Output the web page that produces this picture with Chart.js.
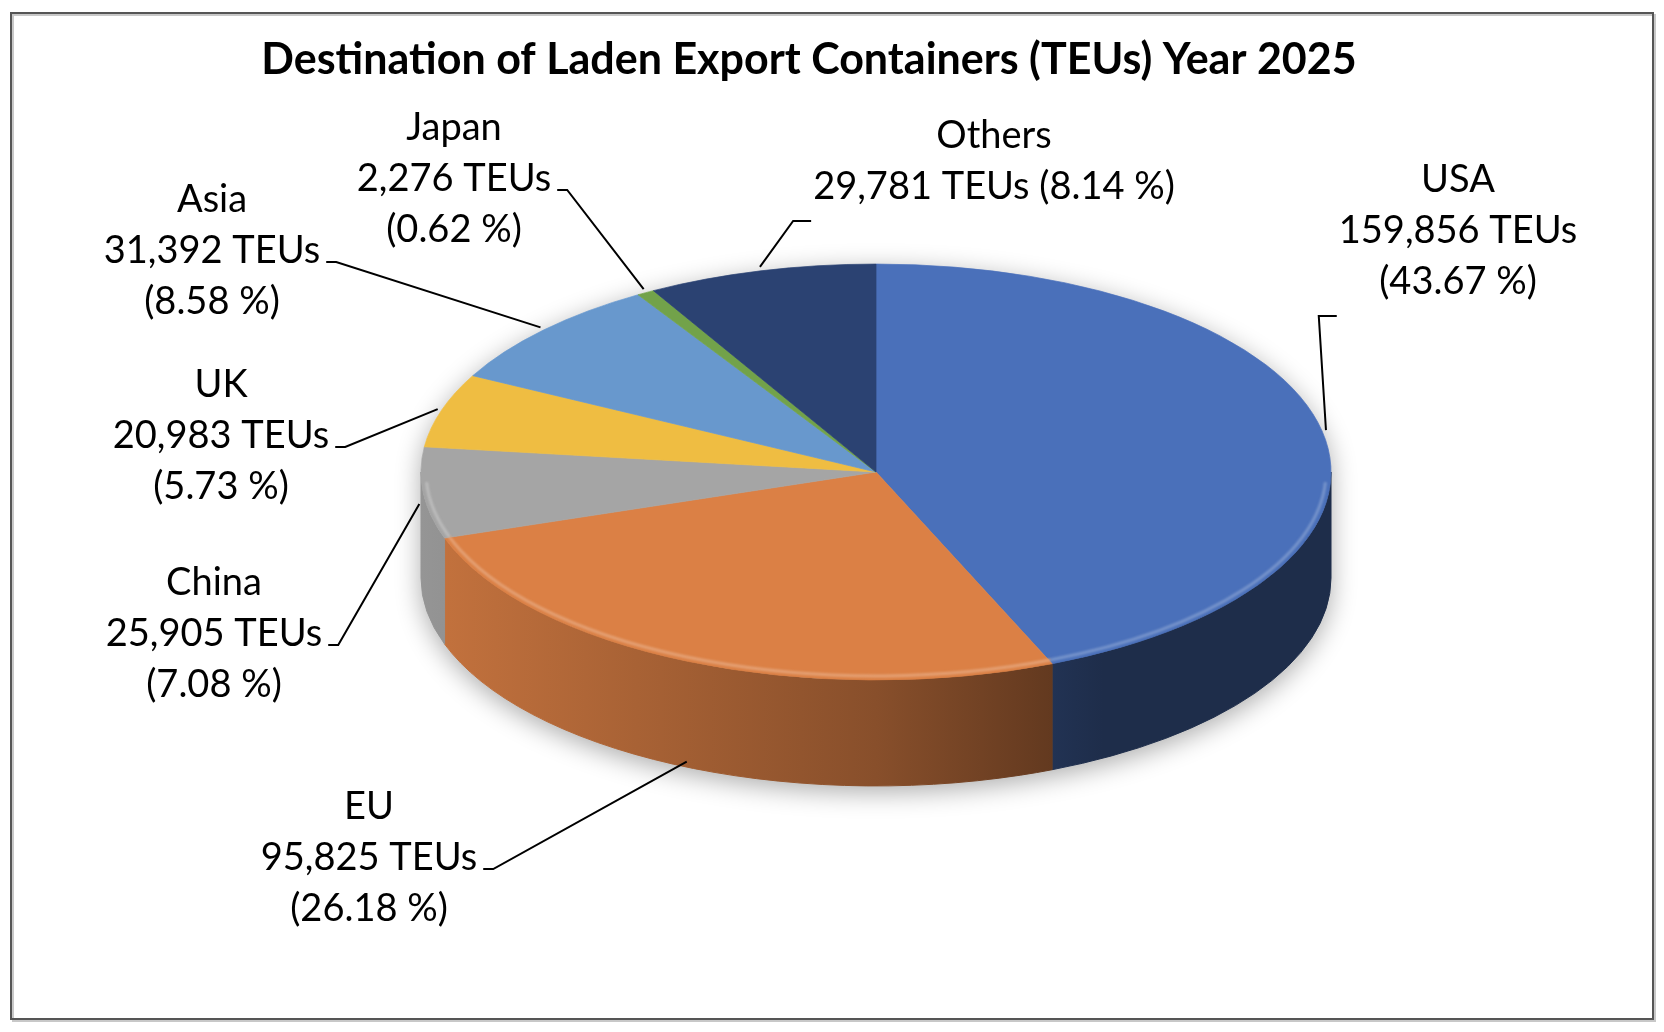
<!DOCTYPE html>
<html lang="en">
<head>
<meta charset="utf-8">
<title>Destination of Laden Export Containers (TEUs) Year 2025</title>
<script src="https://cdn.jsdelivr.net/npm/chart.js@4.4.1/dist/chart.umd.min.js"></script>
<style>
  html, body { margin: 0; padding: 0; background: #fff; }
</style>
</head>
<body>
<canvas id="pie" width="1664" height="1032"></canvas>
<script>
// data
const destinations = ['USA', 'EU', 'China', 'UK', 'Asia', 'Japan', 'Others'];
const teus = [159856, 95825, 25905, 20983, 31392, 2276, 29781];
const shares = [43.67, 26.18, 7.08, 5.73, 8.58, 0.62, 8.14];
const chartTitle = 'Destination of Laden Export Containers (TEUs) Year 2025';

// office-like palette, top faces
const sliceColors = ['#4a70ba', '#db8045', '#a5a5a5', '#efbd42', '#6898cd', '#72a24a', '#2b4272'];

// where each data label sits (centre x, first baseline) and how its leader leaves it
const labelPlace = [
  { x: 1458, y: 192, leader: 'below' },
  { x: 369, y: 819, leader: 'right' },
  { x: 214, y: 595, leader: 'right' },
  { x: 221, y: 397, leader: 'right' },
  { x: 212, y: 212, leader: 'right' },
  { x: 454, y: 140, leader: 'right' },
  { x: 994, y: 148, leader: 'below', oneLine: true }
];

function hexRgb(h) {
  const n = parseInt(h.slice(1), 16);
  return [(n >> 16) & 255, (n >> 8) & 255, n & 255];
}
function shadeOf(rgb, f) {
  const c = rgb.map(v => Math.max(0, Math.min(255, Math.round(v * f))));
  return `rgb(${c[0]},${c[1]},${c[2]})`;
}
function lighter(rgb, t) {
  const c = rgb.map(v => Math.round(v + (255 - v) * t));
  return `rgb(${c[0]},${c[1]},${c[2]})`;
}

const pie3d = {
  id: 'pie3d',
  beforeDraw(chart) {
    const c = chart.ctx;
    c.save();
    c.fillStyle = '#fff';
    c.fillRect(0, 0, chart.width, chart.height);
    c.strokeStyle = '#c8c8c8';
    c.lineWidth = 2;
    c.strokeRect(13, 15, 1642, 1006);
    c.strokeStyle = '#555';
    c.strokeRect(11, 13, 1642, 1006);
    c.fillStyle = '#000';
    c.font = 'bold 43px Lato';
    c.textAlign = 'center';
    c.textBaseline = 'alphabetic';
    c.fillText(chartTitle, 809, 74);
    c.restore();
  },
  beforeDatasetsDraw(chart, args, opts) {
    const c = chart.ctx;
    const arcs = chart.getDatasetMeta(0).data;
    const { x: cx, y: cy, outerRadius: r } = arcs[0].getProps(['x', 'y', 'outerRadius'], true);
    const ry = r * opts.tilt, d = opts.depth;

    // soft shadow under the disc
    c.save();
    c.shadowColor = 'rgba(0,0,0,0.33)';
    c.shadowBlur = 26;
    c.shadowOffsetY = 6;
    c.fillStyle = '#fff';
    c.beginPath();
    c.ellipse(cx, cy, r, ry, 0, Math.PI, 0);
    c.ellipse(cx, cy + d, r, ry, 0, 0, Math.PI);
    c.closePath();
    c.fill();
    c.restore();

    // side walls, only the front half shows
    arcs.forEach((arc, i) => {
      const { startAngle, endAngle } = arc.getProps(['startAngle', 'endAngle'], true);
      const a = Math.max(startAngle, 0), b = Math.min(endAngle, Math.PI);
      if (b <= a) return;
      const base = hexRgb(sliceColors[i]);
      const g = c.createLinearGradient(cx - r, 0, cx + r, 0);
      opts.shade.forEach(s => g.addColorStop(s[0], shadeOf(base, s[1])));
      c.beginPath();
      c.ellipse(cx, cy, r, ry, 0, a, b);
      c.ellipse(cx, cy + d, r, ry, 0, b, a, true);
      c.closePath();
      c.fillStyle = g;
      c.fill();
      c.strokeStyle = g;
      c.lineWidth = 1;
      c.stroke();
    });

    // squash the flat pie into the top face
    c.save();
    c.translate(cx, cy);
    c.scale(1, opts.tilt);
    c.translate(-cx, -cy);
  },
  afterDatasetsDraw(chart, args, opts) {
    const c = chart.ctx;
    c.restore();
    const arcs = chart.getDatasetMeta(0).data;
    const { x: cx, y: cy, outerRadius: r } = arcs[0].getProps(['x', 'y', 'outerRadius'], true);
    const ry = r * opts.tilt, d = opts.depth;

    // light rim along the front edge of the top face
    arcs.forEach((arc, i) => {
      const { startAngle, endAngle } = arc.getProps(['startAngle', 'endAngle'], true);
      const a = Math.max(startAngle, 0.05), b = Math.min(endAngle, Math.PI - 0.05);
      if (b <= a) return;
      c.save();
      c.beginPath();
      c.ellipse(cx, cy, r - 5, ry - 4, 0, a, b);
      c.strokeStyle = lighter(hexRgb(sliceColors[i]), 0.25);
      c.lineWidth = 3;
      c.filter = 'blur(1px)';
      c.stroke();
      c.restore();
    });

    // data labels with leader lines
    c.save();
    c.font = '38px Lato';
    c.fillStyle = '#000';
    c.strokeStyle = '#000';
    c.lineWidth = 2;
    c.textAlign = 'center';
    c.textBaseline = 'alphabetic';
    const lh = 51;
    arcs.forEach((arc, i) => {
      const p = labelPlace[i];
      const valTxt = teus[i].toLocaleString('en-US') + ' TEUs';
      const pctTxt = '(' + shares[i].toFixed(2) + ' %)';
      const lines = p.oneLine ? [destinations[i], valTxt + ' ' + pctTxt]
                              : [destinations[i], valTxt, pctTxt];
      lines.forEach((t, k) => c.fillText(t, p.x, p.y + k * lh));

      const { startAngle, endAngle } = arc.getProps(['startAngle', 'endAngle'], true);
      const m = (startAngle + endAngle) / 2;
      const ax = cx + (r + 4) * Math.cos(m);
      const ay = cy + (ry + 4) * Math.sin(m) + d * Math.max(0, Math.sin(m));

      c.beginPath();
      if (p.leader === 'right') {
        const w = c.measureText(lines[1]).width;
        const ty = p.y + lh - 1;
        c.moveTo(p.x + w / 2 + 6, ty);
        c.lineTo(p.x + w / 2 + 16, ty);
        c.lineTo(ax, ay);
      } else {
        const w = Math.max(...lines.map(t => c.measureText(t).width));
        const left = p.x - w / 2;
        const ty = p.y + (lines.length - 1) * lh + 22;
        c.moveTo(left - 2, ty);
        c.lineTo(left - 20, ty);
        c.lineTo(ax, ay);
      }
      c.stroke();
    });
    c.restore();
  }
};

new Chart(document.getElementById('pie'), {
  type: 'pie',
  data: {
    labels: destinations,
    datasets: [{
      data: teus,
      backgroundColor: sliceColors,
      borderColor: sliceColors,
      borderWidth: 1,
      radius: 455,
      clip: false
    }]
  },
  options: {
    responsive: false,
    animation: false,
    events: [],
    layout: { padding: { left: 388, right: 300, top: 100, bottom: 188 } },
    plugins: {
      legend: { display: false },
      tooltip: { enabled: false },
      title: { display: false },
      pie3d: {
        tilt: 0.457,
        depth: 106,
        shade: [[0, 0.9], [0.5, 0.62], [0.75, 0.4], [1, 0.4]]
      }
    }
  },
  plugins: [pie3d]
});
</script>
</body>
</html>
